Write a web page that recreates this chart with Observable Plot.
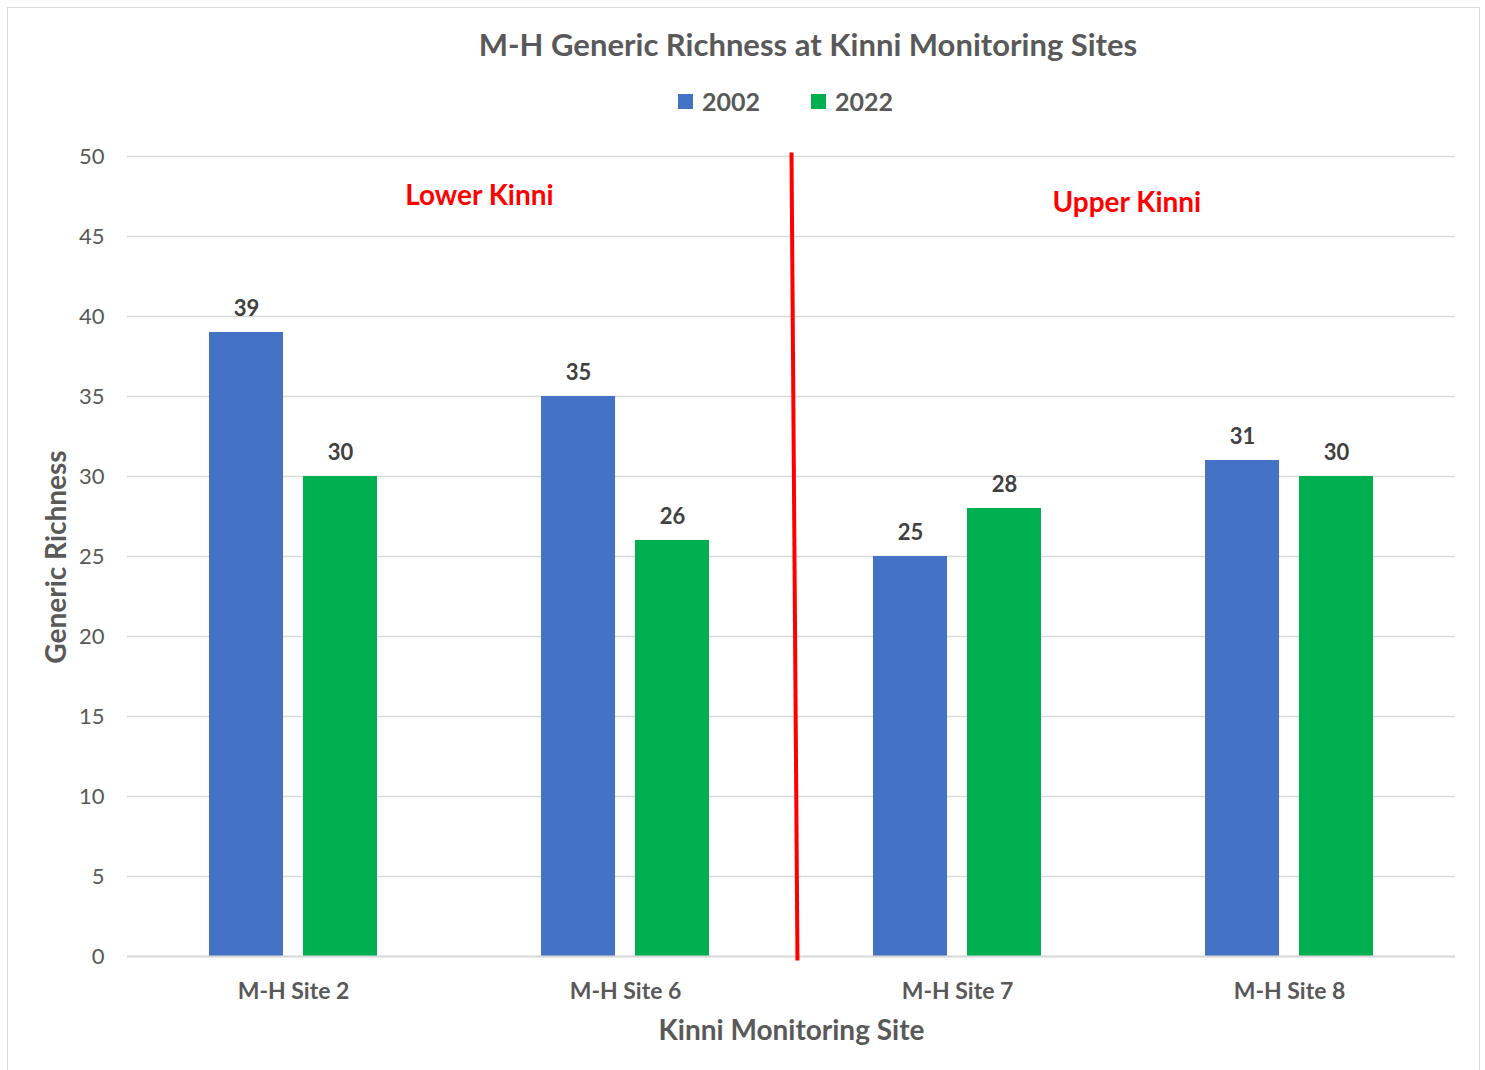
<!DOCTYPE html>
<html>
<head>
<meta charset="utf-8">
<script src="https://cdn.jsdelivr.net/npm/d3@7"></script>
<script src="https://cdn.jsdelivr.net/npm/@observablehq/plot@0.6"></script>
<style>
  html, body { margin: 0; padding: 0; background: #fff; }
  #page { position: relative; width: 1485px; height: 1070px; overflow: hidden; font-family: Lato, "Open Sans", sans-serif; }
  #frame { position: absolute; left: 7px; top: 7px; width: 1473px; height: 1080px; border: 1.5px solid #d9d9d9; box-sizing: border-box; }
  #title { position: absolute; left: 0; width: 1616px; top: 25px; text-align: center; font-size: 31px; font-weight: 700; color: #595959; }
  #legend { position: absolute; left: 678px; top: 86px; display: flex; align-items: center; font-size: 25px; font-weight: 700; color: #595959; }
  .sw { width: 15px; height: 15px; display: inline-block; margin-right: 9px; }
  .item { display: flex; align-items: center; margin-right: 51px; }
  #ytitle { position: absolute; left: 55px; top: 557px; transform: translate(-50%, -50%) rotate(-90deg); white-space: nowrap;
    font-size: 28px; font-weight: 700; color: #595959; }
  #chart { position: absolute; left: 0; top: 130px; }
</style>
</head>
<body>
<div id="page">
  <div id="frame"></div>
  <div id="title">M-H Generic Richness at Kinni Monitoring Sites</div>
  <div id="legend"></div>
  <div id="chart"></div>
  <div id="ytitle">Generic Richness</div>
</div>
<script>
// Monitoring sites and generic richness per survey year
const sites = ["M-H Site 2", "M-H Site 6", "M-H Site 7", "M-H Site 8"];
const years = ["2002", "2022"];
const richness2002 = [39, 35, 25, 31];
const richness2022 = [30, 26, 28, 30];
const yearColors = ["#4472C4", "#00B050"];

// River reach annotations (x in site-index units, y in richness units)
const reachNames = ["Lower Kinni", "Upper Kinni"];
const reachX = [0.56, 2.51];
const reachY = [47.5, 47.1];

// Divider between the lower and upper reaches
const dividerX = [1.5, 1.518];
const dividerY = [50.25, -0.25];

const yTicks = [0, 5, 10, 15, 20, 25, 30, 35, 40, 45, 50];

// Bar geometry within each site slot (site-index units)
const barW = 0.223, halfGap = 0.03;

const rows = [];
sites.forEach((s, i) => {
  [richness2002, richness2022].forEach((series, k) => {
    const x1 = k === 0 ? i - halfGap - barW : i + halfGap;
    rows.push({site: s, i, year: years[k], value: series[i], x1, x2: x1 + barW, xc: x1 + barW / 2});
  });
});

// Legend
const legend = document.getElementById("legend");
years.forEach((y, k) => {
  const it = document.createElement("div");
  it.className = "item";
  it.innerHTML = `<span class="sw" style="background:${yearColors[k]}"></span>${y}`;
  legend.appendChild(it);
});

const chart = Plot.plot({
  width: 1485,
  height: 940,
  marginLeft: 127,
  marginRight: 30,
  marginTop: 26,
  marginBottom: 114,
  style: {fontFamily: "Lato, 'Open Sans', sans-serif", background: "transparent"},
  x: {type: "linear", domain: [-0.5, sites.length - 0.5]},
  y: {domain: [0, 50]},
  color: {domain: years, range: yearColors},
  marks: [
    Plot.gridY(yTicks, {stroke: "#d9d9d9", strokeOpacity: 1, strokeWidth: 1.6}),
    Plot.rectY(rows, {x1: "x1", x2: "x2", y1: 0, y2: "value", fill: "year"}),
    Plot.ruleY([0], {stroke: "#d9d9d9", strokeWidth: 2}),
    Plot.text(rows, {x: "xc", y: "value", text: d => String(d.value), dy: -17, lineAnchor: "bottom",
      fontSize: 22, fontWeight: 700, fill: "#404040"}),
    Plot.axisY(yTicks, {tickSize: 0, tickPadding: 23, fontSize: 22, fill: "#595959", label: null}),
    Plot.axisX(d3.range(sites.length), {tickSize: 0, tickPadding: 26, tickFormat: i => sites[i],
      fontSize: 23, fontWeight: 700, fill: "#595959", label: null}),
    Plot.text(["Kinni Monitoring Site"], {frameAnchor: "bottom", dy: 83, fontSize: 28, fontWeight: 700, fill: "#595959"}),
    Plot.link([0], {x1: () => dividerX[0], x2: () => dividerX[1], y1: () => dividerY[0], y2: () => dividerY[1],
      stroke: "#ff0000", strokeWidth: 4}),
    Plot.text(reachNames, {x: (d, i) => reachX[i], y: (d, i) => reachY[i], text: d => d,
      fontSize: 28, fontWeight: 700, fill: "#ff0000"})
  ]
});
document.getElementById("chart").appendChild(chart);
</script>
</body>
</html>
